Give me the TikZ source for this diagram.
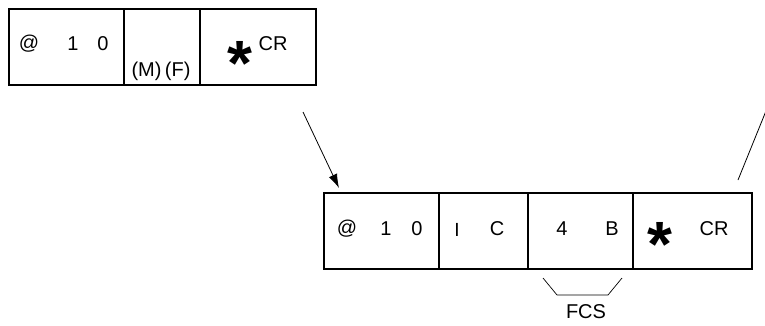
\documentclass[tikz,border=0pt]{standalone}
\usepackage{fontspec}
\setmainfont{Liberation Sans}
\usetikzlibrary{positioning,arrows.meta}

\begin{document}
\begin{tikzpicture}[x=1pt,y=-1pt,
  field/.style={rectangle,draw,line width=1.8pt,minimum height=76pt,outer sep=0pt,inner sep=0pt},
  txt/.style={inner sep=0pt,font=\fontsize{20}{22}\selectfont},
  bigstar/.style={inner sep=0pt,font=\fontsize{64}{64}\selectfont\bfseries}]
  \useasboundingbox (0,0) rectangle (765,325);
  % upper frame
  \node[field,minimum width=115pt,anchor=north west] (addr1) at (9,9) {};
  \node[field,minimum width=76pt,right=0pt of addr1] (mf) {};
  \node[field,minimum width=116pt,right=0pt of mf] (end1) {};
  \node[txt] (at1) at (29,44) {@};
  \node[txt] (one1) at (73,44) {1};
  \node[txt] (zero1) at (103,44) {0};
  \node[txt] (mflbl) at (161,71) {(M)\,(F)};
  \node[bigstar] (star1) at (240,63) {*};
  \node[txt] (cr1) at (273,44) {CR};
  % lower frame
  \node[field,minimum width=115pt,anchor=north west] (addr2) at (324,193) {};
  \node[field,minimum width=89pt,right=0pt of addr2] (cmd) {};
  \node[field,minimum width=105pt,right=0pt of cmd] (fcs) {};
  \node[field,minimum width=119pt,right=0pt of fcs] (end2) {};
  \node[txt] (at2) at (347,229) {@};
  \node[txt] (one2) at (386,229) {1};
  \node[txt] (zero2) at (417,229) {0};
  \node[txt,font=\fontsize{19}{21}\selectfont] (i2) at (457,230) {I};
  \node[txt] (c2) at (497,229) {C};
  \node[txt] (four2) at (562,229) {4};
  \node[txt] (b2) at (612,229) {B};
  \node[bigstar] (star2) at (660,244) {*};
  \node[txt] (cr2) at (714,229) {CR};
  % FCS brace
  \draw[line width=0.7pt] ([shift={(-37.5,9)}]fcs.south) -- ++(14,17) -- ++(51,0) -- ++(14,-17);
  \node[txt] (fcslbl) at (586,312) {FCS};
  % connectors
  \coordinate (cut) at (768,106);
  \draw[line width=0.8pt,-{Latex[length=14pt,width=9pt]}] ([shift={(-13,27)}]end1.south east) -- ([shift={(15,-5)}]addr2.north west);
  \draw[line width=0.8pt] ([shift={(-14,-13)}]end2.north east) -- (cut);
\end{tikzpicture}
\end{document}
